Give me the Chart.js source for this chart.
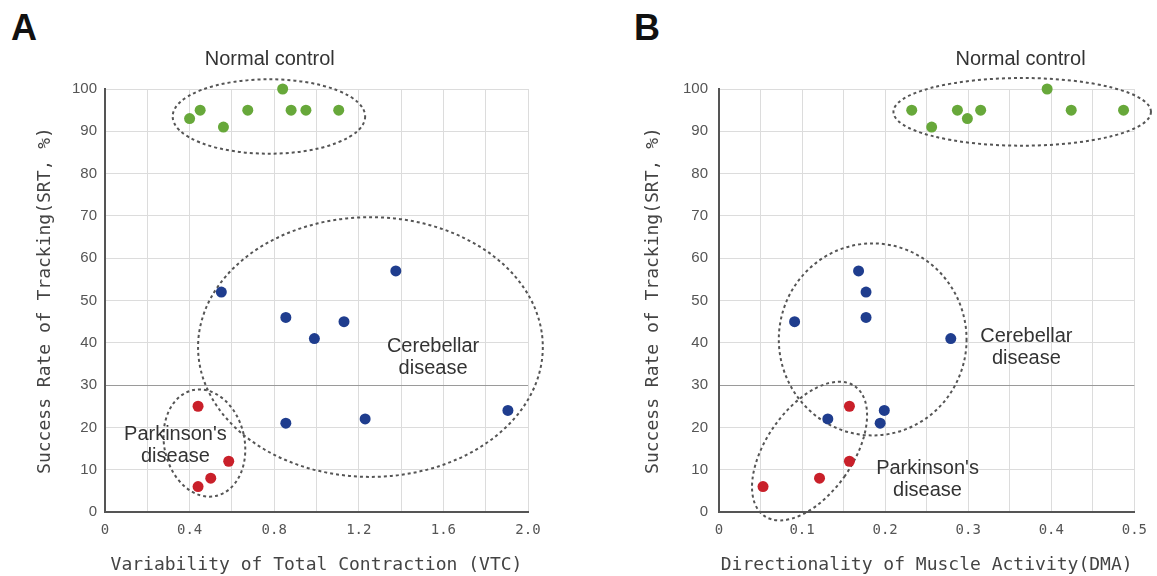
<!DOCTYPE html>
<html>
<head>
<meta charset="utf-8">
<script src="https://cdn.jsdelivr.net/npm/chart.js@4.4.1/dist/chart.umd.min.js"></script>
<style>
  body { margin: 0; background: #fff; width: 1157px; height: 576px; overflow: hidden; position: relative; }
  canvas { position: absolute; top: 0; }
  #chartA { left: 0; }
  #chartB { left: 578px; }
  .tag { position: absolute; font: bold 36px "Liberation Sans", Arial, sans-serif; color: #111; line-height: 1; }
</style>
</head>
<body>
<div class="tag" style="left:11px;top:10px">A</div>
<div class="tag" style="left:634px;top:10px">B</div>
<canvas id="chartA" width="578" height="576"></canvas>
<canvas id="chartB" width="579" height="576"></canvas>
<script>
// —————— DATA ——————
const srtLabels = ['0', '10', '20', '30', '40', '50', '60', '70', '80', '90', '100'];

// Panel A: variability of total contraction
const vtcLabels = ['0', '0.4', '0.8', '1.2', '1.6', '2.0'];
const vtcNormalX = [0.40, 0.45, 0.56, 0.675, 0.84, 0.88, 0.95, 1.105];
const vtcNormalY = [93, 95, 91, 95, 100, 95, 95, 95];
const vtcCerebX = [0.55, 1.375, 0.855, 0.99, 1.13, 0.855, 1.23, 1.905];
const vtcCerebY = [52, 57, 46, 41, 45, 21, 22, 24];
const vtcParkX = [0.44, 0.585, 0.50, 0.44];
const vtcParkY = [25, 12, 8, 6];

// Panel B: directionality of muscle activity
const dmaLabels = ['0', '0.1', '0.2', '0.3', '0.4', '0.5'];
const dmaNormalX = [0.232, 0.256, 0.287, 0.299, 0.315, 0.395, 0.424, 0.487];
const dmaNormalY = [95, 91, 95, 93, 95, 100, 95, 95];
const dmaCerebX = [0.168, 0.177, 0.177, 0.091, 0.279, 0.131, 0.199, 0.194];
const dmaCerebY = [57, 52, 46, 45, 41, 22, 24, 21];
const dmaParkX = [0.157, 0.157, 0.121, 0.053];
const dmaParkY = [25, 12, 8, 6];

// group outlines (dashed ellipses) and their labels, in data units
const vtcRings = [
  { cx: 0.775, cy: 93.5, rx: 0.455, ry: 8.8, rot: 0 },
  { cx: 1.255, cy: 39, rx: 0.815, ry: 30.7, rot: 0 },
  { cx: 0.47, cy: 16.3, rx: 0.19, ry: 12.8, rot: -12 }
];
const vtcNotes = [
  { x: 0.779, y: 106.9, lines: ['Normal control'] },
  { x: 1.551, y: 36.5, lines: ['Cerebellar', 'disease'] },
  { x: 0.333, y: 15.8, lines: ["Parkinson's", 'disease'] }
];
const dmaRings = [
  { cx: 0.365, cy: 94.6, rx: 0.155, ry: 8, rot: 0 },
  { cx: 0.185, cy: 40.8, rx: 0.113, ry: 22.7, rot: 0 },
  { cx: 0.109, cy: 14.4, rx: 0.052, ry: 18.7, rot: 35 }
];
const dmaNotes = [
  { x: 0.363, y: 106.9, lines: ['Normal control'] },
  { x: 0.370, y: 38.9, lines: ['Cerebellar', 'disease'] },
  { x: 0.251, y: 7.6, lines: ["Parkinson's", 'disease'] }
];

const GREEN = '#67a83a';
const BLUE = '#1f3d8e';
const RED = '#c9202a';
const MONO = '"DejaVu Sans Mono", monospace';

const pairs = (xs, ys) => xs.map((x, i) => ({ x, y: ys[i] }));

// —————— ELLIPSES + NOTES ——————
const groupsPlugin = {
  id: 'groups',
  beforeDatasetsDraw(chart, args, opts) {
    const { ctx, scales: { x, y } } = chart;
    ctx.save();
    ctx.strokeStyle = '#555';
    ctx.lineWidth = 2;
    ctx.setLineDash([3, 3]);
    opts.rings.forEach(r => {
      const cx = x.getPixelForValue(r.cx);
      const cy = y.getPixelForValue(r.cy);
      const rx = Math.abs(x.getPixelForValue(r.cx + r.rx) - cx);
      const ry = Math.abs(y.getPixelForValue(r.cy + r.ry) - cy);
      ctx.beginPath();
      ctx.ellipse(cx, cy, rx, ry, r.rot * Math.PI / 180, 0, Math.PI * 2);
      ctx.stroke();
    });
    ctx.restore();
  },
  afterDatasetsDraw(chart, args, opts) {
    const { ctx, scales: { x, y } } = chart;
    ctx.save();
    ctx.fillStyle = '#333';
    ctx.font = '20px "Liberation Sans", Arial, sans-serif';
    ctx.textAlign = 'center';
    ctx.textBaseline = 'middle';
    opts.notes.forEach(n => {
      const px = x.getPixelForValue(n.x);
      const py = y.getPixelForValue(n.y);
      n.lines.forEach((t, i) => ctx.fillText(t, px, py + (i - (n.lines.length - 1) / 2) * 22));
    });
    ctx.restore();
  }
};

function makePanel(id, p) {
  return new Chart(document.getElementById(id), {
    type: 'scatter',
    data: {
      datasets: [
        { label: 'Normal control', data: pairs(p.normalX, p.normalY), backgroundColor: GREEN, clip: false },
        { label: 'Cerebellar disease', data: pairs(p.cerebX, p.cerebY), backgroundColor: BLUE, clip: false },
        { label: "Parkinson's disease", data: pairs(p.parkX, p.parkY), backgroundColor: RED, clip: false }
      ]
    },
    options: {
      responsive: false,
      animation: false,
      layout: { padding: { top: 89, right: p.padRight, left: 0, bottom: 0 } },
      elements: { point: { radius: 5.5, hoverRadius: 5.5, borderWidth: 0 } },
      plugins: {
        legend: { display: false },
        tooltip: { enabled: false },
        groups: { rings: p.rings, notes: p.notes }
      },
      scales: {
        x: {
          type: 'linear',
          min: 0,
          max: p.xMax,
          afterFit: s => { s.height = 64; },
          border: { color: '#555', width: 2 },
          grid: { color: '#dcdcdc', drawTicks: false },
          ticks: {
            stepSize: p.xStep,
            autoSkip: false,
            maxRotation: 0,
            padding: 10,
            color: '#555',
            font: { family: MONO, size: 14 },
            callback: (v, i) => (i % 2 === 0 ? p.xLabels[i / 2] : '')
          },
          title: {
            display: true,
            text: p.xTitle,
            color: '#444',
            font: { family: MONO, size: 18 },
            padding: { top: 2, bottom: 0 }
          }
        },
        y: {
          min: 0,
          max: 100,
          afterFit: s => { s.width = p.yWidth; },
          border: { color: '#555', width: 2 },
          grid: {
            drawTicks: false,
            color: c => (c.tick && c.tick.value === 30 ? '#9a9a9a' : '#dcdcdc')
          },
          ticks: {
            stepSize: 10,
            padding: p.yPad,
            color: '#555',
            font: { family: '"Liberation Sans", Arial, sans-serif', size: 15 },
            callback: (v, i) => srtLabels[i]
          },
          title: {
            display: true,
            text: 'Success Rate of Tracking(SRT, %)',
            color: '#444',
            font: { family: MONO, size: 18 },
            padding: { top: p.yTitlePad, bottom: 0 }
          }
        }
      }
    },
    plugins: [groupsPlugin]
  });
}

makePanel('chartA', {
  normalX: vtcNormalX, normalY: vtcNormalY,
  cerebX: vtcCerebX, cerebY: vtcCerebY,
  parkX: vtcParkX, parkY: vtcParkY,
  rings: vtcRings, notes: vtcNotes,
  xMax: 2, xStep: 0.2, xLabels: vtcLabels,
  xTitle: 'Variability of Total Contraction (VTC)',
  padRight: 50, yWidth: 105, yPad: 8, yTitlePad: 35
});

makePanel('chartB', {
  normalX: dmaNormalX, normalY: dmaNormalY,
  cerebX: dmaCerebX, cerebY: dmaCerebY,
  parkX: dmaParkX, parkY: dmaParkY,
  rings: dmaRings, notes: dmaNotes,
  xMax: 0.5, xStep: 0.05, xLabels: dmaLabels,
  xTitle: 'Directionality of Muscle Activity(DMA)',
  padRight: 12, yWidth: 141, yPad: 11, yTitlePad: 65
});
</script>
</body>
</html>
